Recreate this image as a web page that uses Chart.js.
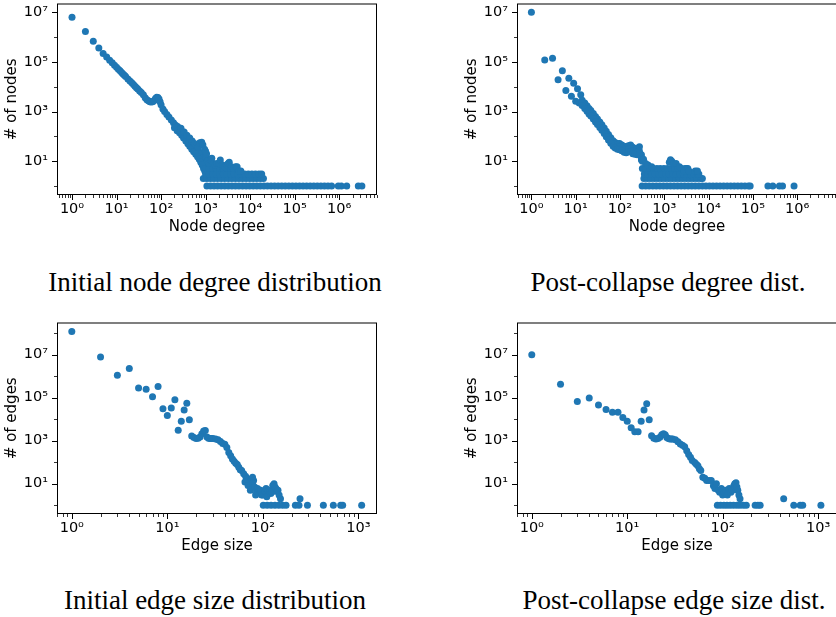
<!DOCTYPE html>
<html>
<head>
<meta charset="utf-8">
<script src="https://cdn.jsdelivr.net/npm/chart.js@4.4.0/dist/chart.umd.min.js"></script>
<style>
  html, body { margin: 0; padding: 0; background: #fff; }
  body { width: 836px; height: 617px; overflow: hidden; position: relative; }
  canvas { position: absolute; }
  .cap {
    position: absolute;
    font-family: 'Liberation Serif', serif;
    font-size: 27px;
    line-height: 1;
    color: #000;
    white-space: nowrap;
    transform: translateX(-50%);
  }
</style>
</head>
<body>
<canvas id="nodeInit" width="420" height="250" style="left:0;top:0"></canvas>
<canvas id="nodeColl" width="420" height="250" style="left:460px;top:0"></canvas>
<canvas id="edgeInit" width="420" height="250" style="left:0;top:319px"></canvas>
<canvas id="edgeColl" width="420" height="250" style="left:460px;top:319px"></canvas>

<div class="cap" style="left:215px;top:269px">Initial node degree distribution</div>
<div class="cap" style="left:668px;top:269px">Post-collapse degree dist.</div>
<div class="cap" style="left:215px;top:587px">Initial edge size distribution</div>
<div class="cap" style="left:674px;top:587px">Post-collapse edge size dist.</div>

<script>
/* ─── Data: initial node degree distribution ─────────────────── */
const nodeInitHead = [[1, 6.3e6], [2, 1.7e6], [3, 6.8e5], [4, 3.7e5], [5, 2.2e5]];
const nodeInitLine = [
  [6, 1.57e5], [7, 1.18e5], [8, 9.2e4], [9, 7.4e4], [10, 6.1e4], [11, 5.1e4], [12, 4.4e4],
  [13, 3.8e4], [14, 3.3e4], [15, 2.9e4], [16, 2.6e4], [18, 2.07e4], [20, 1.7e4], [22, 1.44e4],
  [24, 1.22e4], [26, 1.05e4], [28, 9.2e3], [30, 8.1e3], [33, 6.8e3], [36, 5.8e3], [40, 4.8e3],
  [44, 3.6e3], [48, 3.0e3], [52, 2.75e3], [56, 2.5e3], [60, 2.45e3], [65, 2.5e3], [70, 2.8e3],
  [75, 3.4e3], [80, 3.8e3], [85, 3.7e3], [90, 3.2e3], [95, 2.5e3], [100, 1.9e3], [110, 1.26e3],
  [120, 1.0e3], [135, 760], [150, 600], [170, 460], [190, 355], [210, 290], [235, 250],
  [260, 200], [290, 160], [320, 125], [350, 100], [390, 80], [430, 63], [480, 50], [530, 40],
  [580, 32], [640, 28], [700, 24], [760, 45], [800, 20], [850, 14], [900, 10], [950, 7]
];
const nodeInitBand = [
  [200, 220], [230, 170], [260, 140], [290, 110], [320, 85], [360, 65], [400, 50], [440, 40],
  [490, 30], [540, 24], [600, 19], [660, 15], [720, 12], [780, 9], [840, 7], [900, 5], [960, 4],
  [280, 210], [330, 150], [380, 110], [440, 85], [500, 65], [560, 52], [620, 42], [680, 36],
  [740, 55], [820, 58], [870, 45], [950, 30], [1000, 25], [1050, 14]
];
const nodeInitTwos   = [890, 1070, 1290, 1550, 1860, 2240, 2690, 3240, 3890, 4680, 5620, 6760, 8130, 9770, 11750, 14130, 16980, 19950];
const nodeInitThrees = [1000, 1200, 1450, 1740, 2090, 2510, 3020, 3630, 4370, 5250, 6310, 7590, 9120, 10960, 13180, 15850, 18200];
const nodeInitFives  = [1000, 1200, 1450, 1740, 2090, 2510, 3020, 3630, 4370, 5000];
const nodeInitPeaks = [
  [1000, 15], [1050, 20], [1100, 10], [1200, 8], [1300, 11], [1380, 13], [1500, 8], [1650, 7],
  [1800, 8], [2000, 8], [2140, 11], [2400, 7], [2700, 6], [3000, 7], [3200, 8], [3400, 9],
  [3800, 6], [4200, 5], [4700, 6], [5100, 6], [5600, 4], [6200, 4]
];
const nodeInitOnes = [
  1070, 1290, 1550, 1860, 2240, 2690, 3240, 3890, 4680, 5620, 6760, 8130, 9770, 11750, 14130,
  16980, 20420, 24550, 29510, 35480, 42660, 51290, 61660, 74130, 89130, 107150, 128820, 154880,
  186210, 223870, 269150, 323590, 389050, 467740, 562340, 676080, 955000, 1120000, 1480000,
  2690000, 3240000
];

/* ─── Data: post-collapse node degree distribution ───────────── */
const nodeCollHead = [
  [1, 1e7], [2, 1.2e5], [3, 1.4e5], [4, 1.9e4], [5, 4.4e4], [6, 7e3], [7, 2.2e4], [8, 4.1e3],
  [9, 1.4e4], [10, 2.6e3], [11, 8.3e3], [12, 2.2e3], [13, 4.8e3]
];
const nodeCollUpper = [
  [14, 2890], [16, 2220], [18, 1700], [20, 1335], [22, 1100], [25, 825], [28, 630], [31, 503],
  [35, 380], [39, 292], [44, 217], [49, 160], [55, 120], [62, 88], [70, 67], [78, 57], [88, 52],
  [98, 52], [110, 45], [124, 40], [138, 38], [155, 42], [174, 45], [195, 36], [219, 32],
  [245, 33], [275, 38], [305, 18]
];
const nodeCollMid = [
  [14, 2240], [16, 1720], [18, 1320], [20, 1035], [22, 850], [25, 640], [28, 490], [31, 390],
  [35, 295], [39, 226], [44, 168], [49, 124], [55, 93], [62, 68], [70, 52], [78, 44], [88, 39],
  [98, 37], [110, 33], [124, 30], [138, 29], [155, 31], [174, 31], [195, 26], [219, 24],
  [245, 23], [275, 25], [305, 14]
];
const nodeCollLower = [
  [14, 1740], [16, 1330], [18, 1020], [20, 800], [22, 660], [25, 496], [28, 380], [31, 302],
  [35, 229], [39, 175], [44, 130], [49, 96], [55, 72], [62, 53], [70, 40], [78, 34], [88, 30],
  [98, 29], [110, 26], [124, 23], [138, 22], [155, 24], [174, 24], [195, 20], [219, 19],
  [245, 18], [275, 19], [305, 11]
];
const nodeCollTwos   = [347, 417, 501, 603, 724, 871, 1047, 1259, 1514, 1820, 2188, 2630, 3162, 3802, 4571, 5495, 6607, 7244];
const nodeCollThrees = [355, 427, 513, 617, 741, 891, 1072, 1288, 1549, 1862, 2239, 2692, 3236, 3890, 4677, 5623, 6026];
const nodeCollFives  = [320, 390, 470, 560, 680, 810, 980, 1180, 1420, 1700, 2050, 2460, 2950, 3160];
const nodeCollPeaks = [
  [320, 10], [340, 12], [380, 8], [430, 7], [520, 6], [1300, 9], [1380, 11.5], [1480, 10],
  [1600, 8], [1850, 8], [2200, 6], [2800, 4], [3400, 5], [3600, 4], [5000, 4], [5600, 4]
];
const nodeCollOnes = [
  316, 380, 457, 550, 661, 794, 955, 1148, 1380, 1660, 1995, 2399, 2884, 3467, 4169, 5012, 6026,
  7244, 8710, 10471, 12589, 15136, 18197, 21878, 26303, 31623, 38019, 45709, 54954, 66069,
  79433, 87000, 218800, 281800, 398100, 467700, 851100
];

/* ─── Data: initial edge size distribution ───────────────────── */
const edgeInitHead = [
  [1, 1.2e8], [2, 7.8e6], [3, 1.1e6], [4, 2.3e6], [5, 2.8e5], [6, 2.5e5], [7, 1.1e5], [8, 3.3e5],
  [9, 3.1e4], [10, 1.5e4], [11, 3.3e4], [12, 8.0e4], [13, 3.1e3], [14, 8.1e3], [15, 2.7e4],
  [16, 5.6e4], [17, 9.5e3]
];
const edgeInitBody = [
  [18, 1.65e3], [19, 1.4e3], [20, 1.25e3], [21, 1.3e3], [22, 1.5e3], [23, 2.1e3], [24, 2.8e3],
  [25, 3.0e3], [26, 1.5e3], [27, 1.3e3], [28, 1.25e3], [29, 1.25e3], [30, 1.25e3], [32, 1.2e3],
  [34, 1.1e3], [36, 910], [38, 740], [40, 690], [42, 480], [44, 280], [46, 200], [48, 140],
  [50, 110], [52, 89], [54, 78], [56, 58], [58, 44], [60, 41], [63, 29], [66, 22], [69, 17],
  [72, 10], [75, 14], [78, 20], [80, 14]
];
const edgeInitTail = [
  [65, 12], [70, 8.3], [74, 4.9], [78, 10], [82, 7], [84, 3], [86, 4.3], [88, 6], [92, 4.9],
  [95, 5], [97, 3], [100, 3], [105, 4.3], [108, 6], [110, 2.5], [114, 4.9], [118, 5], [121, 3.5],
  [124, 4], [127, 8.3], [131, 10], [134, 7], [137, 6], [141, 4.3], [144, 5], [148, 3], [153, 2],
  [245, 2]
];
const edgeInitOnes = [101, 111, 122, 134, 147, 161, 175, 219, 239, 293, 430, 547, 653, 685, 1083];

/* ─── Data: post-collapse edge size distribution ─────────────── */
const edgeCollHead = [
  [1, 1e7], [2, 4.2e5], [3, 6.7e4], [4, 9.6e4], [5, 4.6e4], [6, 2.8e4], [7, 2.1e4], [8, 2.1e4],
  [9, 1.2e4], [10, 8.1e3], [11, 4e3], [12, 2.6e3], [13, 2.6e3], [14, 8.1e3], [15, 2.7e4],
  [16, 5.2e4], [17, 9.5e3]
];
const edgeCollBody = [
  [18, 1.7e3], [19, 1.3e3], [20, 1.2e3], [21, 1.25e3], [22, 1.45e3], [23, 1.9e3], [24, 2.1e3],
  [25, 1.9e3], [26, 1.4e3], [27, 1.25e3], [28, 1.2e3], [29, 1.2e3], [30, 1.2e3], [32, 1.1e3],
  [34, 900], [36, 700], [38, 620], [40, 520], [42, 340], [44, 230], [46, 170], [48, 120],
  [51, 98], [53, 80], [55, 69], [57, 50], [59, 41], [62, 20], [65, 18], [68, 14], [72, 14], [76, 14]
];
const edgeCollTail = [
  [80, 8], [83, 6], [86, 10], [90, 5], [93, 4], [97, 6], [100, 3], [104, 4], [108, 5], [112, 3],
  [117, 6], [122, 4], [126, 5], [131, 8], [134, 10], [138, 11], [141, 7], [144, 5], [148, 3],
  [152, 2], [436, 2]
];
const edgeCollOnes = [88, 95, 103, 111, 120, 130, 141, 152, 165, 177, 219, 234, 247, 556, 650, 690, 1070];

/* ─── Axis ticks ─────────────────────────────────────────────── */
const xTicksNode = [1, 10, 100, 1e3, 1e4, 1e5, 1e6];
const xTicksEdge = [1, 10, 100, 1e3];
const yTicksOdd  = [10, 1e3, 1e5, 1e7];

/* ─── Helpers ────────────────────────────────────────────────── */
const C0 = '#1f77b4';
const SUP = { '0': '⁰', '1': '¹', '2': '²', '3': '³', '4': '⁴', '5': '⁵', '6': '⁶', '7': '⁷', '8': '⁸', '9': '⁹', '-': '⁻' };

function powLabel(v) {
  const e = String(Math.round(Math.log10(v)));
  return '10' + e.split('').map(c => SUP[c]).join('');
}

function row(xs, y) {
  return xs.map(x => [x, y]);
}

// matplotlib-style frame plus major/minor tick marks
const frameAndTicks = {
  id: 'frameAndTicks',
  afterDraw(chart) {
    const { ctx, chartArea: a, scales: { x, y } } = chart;
    const majorY = chart.options.scales.y.majorTicks;
    ctx.save();
    ctx.strokeStyle = '#000';

    // x ticks: every decade with 2..9 minors
    const d0 = Math.floor(Math.log10(x.min));
    const d1 = Math.ceil(Math.log10(x.max));
    for (let d = d0; d <= d1; d++) {
      for (let m = 1; m <= 9; m++) {
        const v = m * Math.pow(10, d);
        if (v < x.min || v > x.max) continue;
        const px = Math.round(x.getPixelForValue(v)) + 0.5;
        const len = m === 1 ? 5 : 3;
        ctx.lineWidth = m === 1 ? 1 : 0.8;
        ctx.beginPath();
        ctx.moveTo(px, a.bottom);
        ctx.lineTo(px, a.bottom + len);
        ctx.stroke();
      }
    }

    // y ticks: labelled decades long, the others short
    const e0 = Math.floor(Math.log10(y.min));
    const e1 = Math.ceil(Math.log10(y.max));
    for (let d = e0; d <= e1; d++) {
      const v = Math.pow(10, d);
      if (v < y.min || v > y.max) continue;
      const py = Math.round(y.getPixelForValue(v)) + 0.5;
      const isMajor = majorY.some(t => Math.abs(Math.log10(t) - d) < 1e-6);
      const len = isMajor ? 5 : 3;
      ctx.lineWidth = isMajor ? 1 : 0.8;
      ctx.beginPath();
      ctx.moveTo(a.left, py);
      ctx.lineTo(a.left - len, py);
      ctx.stroke();
    }

    ctx.lineWidth = 1;
    ctx.strokeRect(a.left + 0.5, a.top + 0.5, a.right - a.left - 1, a.bottom - a.top - 1);
    ctx.restore();
  }
};

function axisFont(size) {
  return { family: 'DejaVu Sans', size };
}

function makeChart(id, groups, cfg) {
  const points = groups.flat().map(([x, y]) => ({ x, y }));
  return new Chart(document.getElementById(id), {
    type: 'scatter',
    data: {
      datasets: [{
        data: points,
        backgroundColor: C0,
        borderWidth: 0,
        pointRadius: 3.5,
        pointHoverRadius: 3.5,
      }],
    },
    options: {
      responsive: false,
      animation: false,
      events: [],
      layout: { padding: { top: 1, right: 43, left: 0, bottom: 0 } },
      plugins: { legend: { display: false }, tooltip: { enabled: false } },
      scales: {
        x: {
          type: 'logarithmic',
          position: 'bottom',
          min: cfg.xMin,
          max: cfg.xMax,
          grid: { display: false, drawTicks: false },
          border: { display: false },
          afterBuildTicks: s => { s.ticks = cfg.xTicks.map(v => ({ value: v })); },
          afterFit: s => { s.height = 55; s.paddingLeft = 0; s.paddingRight = 0; },
          ticks: {
            autoSkip: false, maxRotation: 0, minRotation: 0, padding: 6,
            color: '#000', font: axisFont(14.5), callback: v => powLabel(v),
          },
          title: {
            display: true, text: cfg.xTitle, color: '#000', font: axisFont(15),
            padding: { top: 0, bottom: 14 },
          },
        },
        y: {
          type: 'logarithmic',
          position: 'left',
          min: cfg.yMin,
          max: cfg.yMax,
          majorTicks: cfg.yTicks,
          grid: { display: false, drawTicks: false },
          border: { display: false },
          afterBuildTicks: s => { s.ticks = cfg.yTicks.map(v => ({ value: v })); },
          afterFit: s => { s.width = 57; s.paddingTop = 0; s.paddingBottom = 0; },
          ticks: {
            autoSkip: false, padding: 9,
            color: '#000', font: axisFont(14.5), callback: v => powLabel(v),
          },
          title: {
            display: true, text: cfg.yTitle, color: '#000', font: axisFont(15),
            padding: { top: 3.5, bottom: 0 },
          },
        },
      },
    },
    plugins: [frameAndTicks],
  });
}

/* ─── Charts ─────────────────────────────────────────────────── */
makeChart('nodeInit', [
  nodeInitHead, nodeInitLine, nodeInitBand,
  row(nodeInitTwos, 2), row(nodeInitThrees, 3), row(nodeInitFives, 5),
  nodeInitPeaks, row(nodeInitOnes, 1),
], {
  xMin: 0.460, xMax: 7.08e6, yMin: 0.431, yMax: 2.28e7,
  xTicks: xTicksNode, yTicks: yTicksOdd, xTitle: 'Node degree', yTitle: '# of nodes',
});

makeChart('nodeColl', [
  nodeCollHead, nodeCollUpper, nodeCollMid, nodeCollLower,
  row(nodeCollTwos, 2), row(nodeCollThrees, 3), row(nodeCollFives, 5),
  nodeCollPeaks, row(nodeCollOnes, 1),
], {
  xMin: 0.473, xMax: 7.94e6, yMin: 0.431, yMax: 2.28e7,
  xTicks: xTicksNode, yTicks: yTicksOdd, xTitle: 'Node degree', yTitle: '# of nodes',
});

makeChart('edgeInit', [
  edgeInitHead, edgeInitBody, edgeInitTail, row(edgeInitOnes, 1),
], {
  xMin: 0.701, xMax: 1567, yMin: 0.389, yMax: 3.16e8,
  xTicks: xTicksEdge, yTicks: yTicksOdd, xTitle: 'Edge size', yTitle: '# of edges',
});

makeChart('edgeColl', [
  edgeCollHead, edgeCollBody, edgeCollTail, row(edgeCollOnes, 1),
], {
  xMin: 0.706, xMax: 1578, yMin: 0.389, yMax: 3.16e8,
  xTicks: xTicksEdge, yTicks: yTicksOdd, xTitle: 'Edge size', yTitle: '# of edges',
});
</script>
</body>
</html>
